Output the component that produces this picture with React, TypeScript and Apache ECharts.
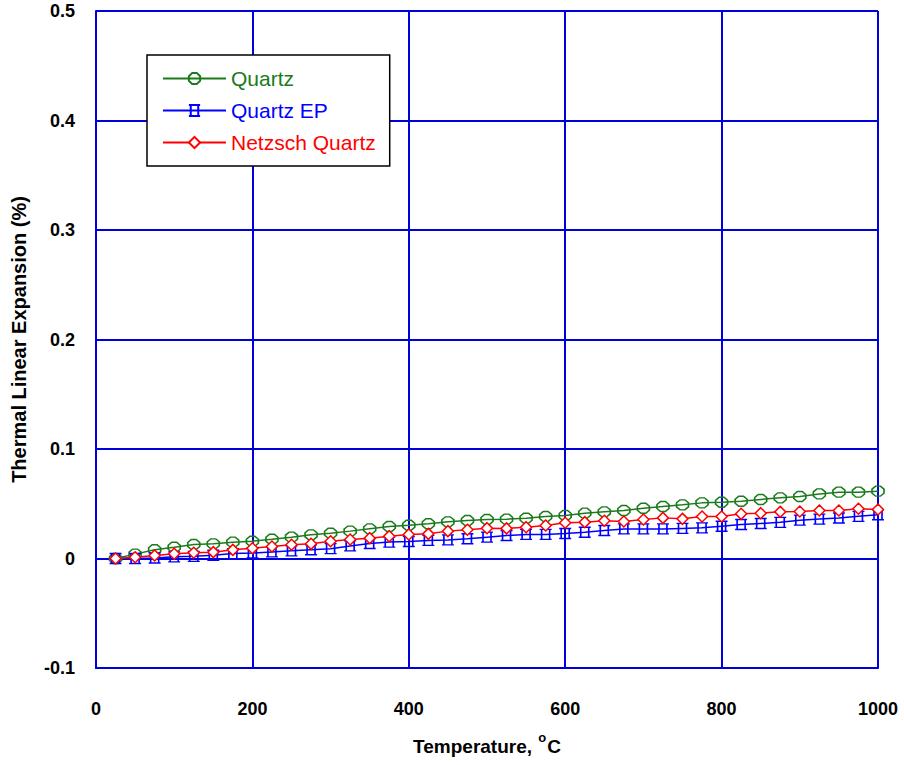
import React, { useEffect, useRef } from "react";
import * as echarts from "echarts";

const temps = [25, 50, 75, 100, 125, 150, 175, 200, 225, 250, 275, 300, 325, 350, 375, 400, 425, 450, 475, 500,
  525, 550, 575, 600, 625, 650, 675, 700, 725, 750, 775, 800, 825, 850, 875, 900, 925, 950, 975, 1000];

const quartz = [0.0, 0.004, 0.008, 0.0103, 0.0128, 0.0134, 0.0149, 0.0158, 0.0176, 0.0195, 0.0216, 0.0231, 0.025,
  0.0271, 0.0292, 0.0304, 0.0317, 0.0335, 0.0347, 0.0356, 0.0359, 0.0368, 0.0384, 0.0393, 0.0414, 0.0426, 0.0438,
  0.0459, 0.0475, 0.049, 0.0508, 0.0514, 0.0523, 0.0539, 0.0554, 0.0566, 0.059, 0.0606, 0.0606, 0.0615];

const quartzEP = [0.0, 0.0, 0.0005, 0.0015, 0.002, 0.003, 0.0045, 0.005, 0.006, 0.007, 0.008, 0.009, 0.0115,
  0.0137, 0.015, 0.0155, 0.0165, 0.017, 0.018, 0.0195, 0.021, 0.022, 0.022, 0.0228, 0.024, 0.0256, 0.027, 0.027,
  0.027, 0.0275, 0.028, 0.0295, 0.031, 0.032, 0.033, 0.035, 0.036, 0.037, 0.0385, 0.04];

const netzsch = [0.0, 0.0012, 0.0027, 0.0043, 0.0052, 0.0058, 0.0079, 0.0094, 0.011, 0.0125, 0.0134, 0.0158, 0.0174,
  0.0186, 0.0204, 0.0219, 0.0225, 0.025, 0.0262, 0.0277, 0.0275, 0.0286, 0.0301, 0.0326, 0.0332, 0.0345, 0.0338,
  0.0356, 0.0371, 0.0362, 0.0384, 0.0384, 0.0408, 0.0414, 0.0426, 0.0429, 0.0438, 0.0438, 0.0454, 0.0447];

const seriesNames = ["Quartz", "Quartz EP", "Netzsch Quartz"];
const xTitle = "Temperature, ";
const yTitle = "Thermal Linear Expansion (%)";

const GREEN = "#1b7a1b";
const BLUE = "#0000ff";
const RED = "#ff0000";
const GRID = "#0000dd";
const FONT = "'Liberation Sans', Arial, sans-serif";

const octagon = "path://M3,0 L7,0 L10,3 L10,7 L7,10 L3,10 L0,7 L0,3 Z";
const squareBar = "path://M2,0 L10,0 L10,9 L2,9 Z M0,0 L12,0 M0,9 L12,9";

export default function App() {
  const ref = useRef<HTMLDivElement>(null);
  useEffect(() => {
    document.body.style.margin = "0";
    const chart = echarts.init(ref.current!, undefined, { renderer: "svg" });
    const pairs = (vals: number[]) => temps.map((t, i) => [t, vals[i]]);
    chart.setOption({
      animation: false,
      backgroundColor: "#fff",
      textStyle: { fontFamily: FONT },
      grid: { left: 96, right: 26, top: 11, bottom: 97, containLabel: false },
      legend: {
        orient: "vertical",
        left: 147,
        top: 55,
        padding: [13, 14, 13, 15],
        itemWidth: 63,
        itemHeight: 14,
        itemGap: 11,
        backgroundColor: "#fff",
        borderColor: "#000",
        borderWidth: 1.5,
        textStyle: { fontSize: 21, fontFamily: FONT },
        data: [
          { name: seriesNames[0], textStyle: { color: GREEN } },
          { name: seriesNames[1], textStyle: { color: BLUE } },
          { name: seriesNames[2], textStyle: { color: RED } },
        ],
      },
      xAxis: {
        type: "value",
        min: 0,
        max: 1000,
        interval: 200,
        name: `{a|${xTitle}}{s|o}{a|C}`,
        nameLocation: "middle",
        nameGap: 63,
        nameTextStyle: {
          rich: {
            a: { fontSize: 19, fontWeight: "bold", color: "#000", fontFamily: FONT, lineHeight: 30 },
            s: { fontSize: 13, fontWeight: "bold", color: "#000", fontFamily: FONT, verticalAlign: "top", lineHeight: 11, padding: [0, 1, 0, 1] },
          },
        },
        axisLine: { onZero: false, lineStyle: { color: GRID, width: 2 } },
        axisTick: { show: false },
        axisLabel: {
          margin: 32,
          fontSize: 18,
          fontWeight: "bold",
          color: "#000",
          fontFamily: FONT,
          formatter: (v: number) => String(v),
        },
        splitLine: { show: true, lineStyle: { color: GRID, width: 2 } },
      },
      yAxis: {
        type: "value",
        min: -0.1,
        max: 0.5,
        interval: 0.1,
        name: yTitle,
        nameLocation: "middle",
        nameRotate: 90,
        nameGap: 67,
        nameTextStyle: { fontSize: 20, fontWeight: "bold", color: "#000", fontFamily: FONT },
        axisLine: { onZero: false, lineStyle: { color: GRID, width: 2 } },
        axisTick: { show: false },
        axisLabel: {
          margin: 21,
          fontSize: 18,
          fontWeight: "bold",
          color: "#000",
          fontFamily: FONT,
          formatter: (v: number) => (Math.abs(v) < 1e-9 ? "0" : v.toFixed(1)),
        },
        splitLine: { show: true, lineStyle: { color: GRID, width: 2 } },
      },
      series: [
        {
          name: seriesNames[0],
          type: "line",
          data: pairs(quartz),
          symbol: octagon,
          symbolSize: [12, 10],
          lineStyle: { color: GREEN, width: 1.5 },
          itemStyle: { color: "rgba(255,255,255,0)", borderColor: GREEN, borderWidth: 1.5 },
          color: GREEN,
        },
        {
          name: seriesNames[1],
          type: "line",
          data: pairs(quartzEP),
          symbol: squareBar,
          symbolSize: [12, 10],
          lineStyle: { color: BLUE, width: 1.5 },
          itemStyle: { color: "rgba(255,255,255,0)", borderColor: BLUE, borderWidth: 1.5 },
          color: BLUE,
        },
        {
          name: seriesNames[2],
          type: "line",
          data: pairs(netzsch),
          symbol: "diamond",
          symbolSize: 11,
          lineStyle: { color: RED, width: 1.5 },
          itemStyle: { color: "#fff", borderColor: RED, borderWidth: 1.5 },
          color: RED,
        },
      ],
    });
    return () => chart.dispose();
  }, []);
  return <div ref={ref} style={{ position: "absolute", left: 0, top: 0, width: 904, height: 765 }} />;
}
